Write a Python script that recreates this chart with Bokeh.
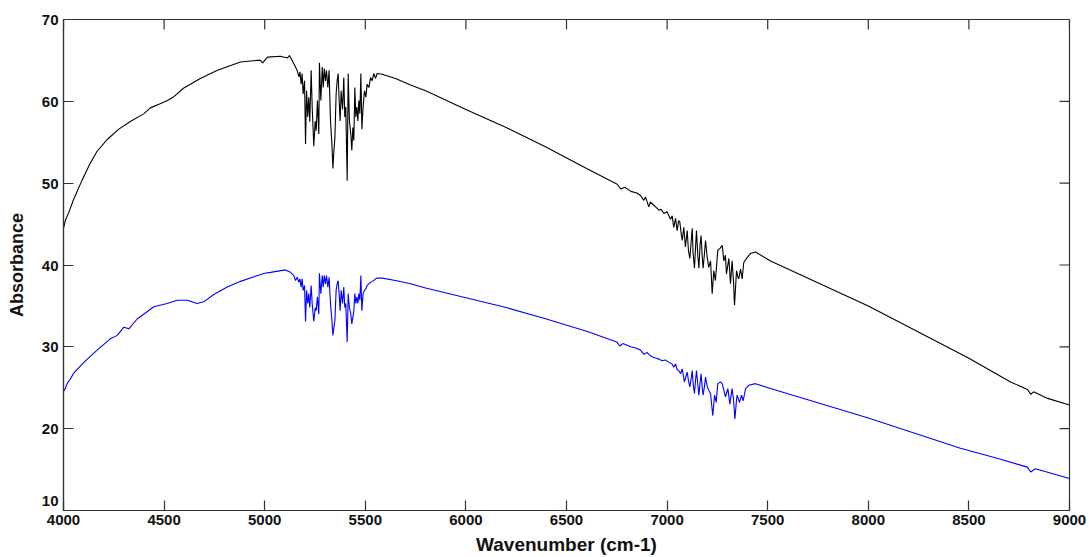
import math
from bokeh.plotting import figure
from bokeh.models import Range1d, FixedTicker
from bokeh.embed import file_html
from bokeh.resources import INLINE

# Tick positions
x_ticks = [4000, 4500, 5000, 5500, 6000, 6500, 7000, 7500, 8000, 8500, 9000]
y_ticks = [10, 20, 30, 40, 50, 60, 70]

# Upper spectrum (black)
black_wn = [
    4000, 4010, 4026, 4050, 4093, 4130, 4167, 4220, 4275, 4330, 4400, 4432, 4480, 4517,
    4550, 4596, 4680, 4765, 4880, 4960, 4979, 4990, 5000, 5014, 5078, 5113, 5123, 5145,
    5161, 5170, 5175, 5181, 5186, 5191, 5198, 5203, 5208, 5214, 5219, 5224, 5231, 5236,
    5244, 5251, 5256, 5262, 5269, 5272, 5279, 5286, 5291, 5296, 5302, 5307, 5314, 5320,
    5327, 5334, 5339, 5344, 5349, 5355, 5360, 5365, 5370, 5375, 5380, 5387, 5393, 5398,
    5403, 5410, 5415, 5421, 5428, 5433, 5438, 5443, 5448, 5453, 5458, 5463, 5468, 5473,
    5478, 5483, 5489, 5496, 5503, 5509, 5518, 5526, 5534, 5542, 5551, 5559, 5584, 5650,
    5725, 5800, 6000, 6200, 6400, 6600, 6750, 6770, 6790, 6820, 6850,
    6868, 6884, 6893, 6909, 6917, 6934, 6947, 6959, 6970, 6984, 7000, 7017, 7025, 7033,
    7042, 7050, 7057, 7063, 7070, 7075, 7083, 7091, 7100, 7106, 7113, 7120, 7125, 7129,
    7136, 7141, 7146, 7153, 7158, 7164, 7169, 7174, 7179, 7186, 7191, 7199, 7207, 7216,
    7224, 7232, 7240, 7252, 7262, 7274, 7282, 7290, 7295, 7307, 7315, 7323, 7330, 7335,
    7342, 7345, 7351, 7356, 7365, 7373, 7381, 7398, 7414, 7439, 7514,
    8000, 8500, 8607, 8707, 8791, 8807, 8822, 8891, 9000,
]
black_abs = [
    44.5, 45.5, 46.4, 48.0, 50.4, 52.3, 53.9, 55.4, 56.6, 57.5, 58.5, 59.2, 59.7, 60.1,
    60.6, 61.6, 62.8, 63.8, 64.8, 65.0, 65.0, 64.7, 65.0, 65.4, 65.5, 65.3, 65.6, 64.6,
    63.8, 63.0, 63.6, 62.1, 63.4, 60.9, 62.5, 54.8, 61.3, 58.1, 60.5, 57.5, 63.8, 59.3,
    54.5, 57.6, 56.4, 60.1, 56.0, 64.7, 60.1, 64.2, 61.7, 64.0, 62.5, 63.8, 61.7, 63.8,
    57.6, 54.8, 51.8, 54.0, 55.6, 60.9, 62.5, 63.4, 60.1, 57.6, 61.3, 59.0, 62.9, 58.1,
    59.3, 50.3, 63.4, 57.6, 56.0, 54.0, 56.8, 55.2, 61.7, 58.1, 59.3, 57.6, 60.1, 58.5,
    63.4, 56.6, 59.3, 61.3, 60.5, 62.1, 61.7, 62.9, 62.5, 63.4, 62.8, 63.4, 63.3, 62.8,
    62.0, 61.3, 59.0, 56.8, 54.4, 51.8, 49.9, 49.3, 49.5, 49.0, 48.8,
    48.5, 47.9, 48.3, 47.1, 47.7, 47.3, 47.0, 46.7, 46.8, 46.3, 46.5, 45.6, 46.0, 44.6,
    45.7, 44.2, 45.4, 45.3, 43.8, 43.0, 44.6, 42.2, 44.2, 41.8, 40.8, 43.0, 44.5, 41.5,
    39.6, 42.0, 44.2, 41.0, 39.6, 42.5, 43.6, 41.2, 39.6, 41.5, 43.0, 41.0, 39.7, 40.5,
    36.5, 39.3, 38.1, 41.8, 42.0, 42.4, 40.5, 41.2, 38.9, 40.8, 37.7, 40.5, 38.0, 35.1,
    38.0, 39.3, 38.6, 38.3, 39.5, 38.3, 40.3, 40.9, 41.4, 41.6, 40.5,
    35.0, 28.6, 27.1, 25.7, 24.8, 24.2, 24.5, 23.7, 22.9,
]

# Lower spectrum (blue)
blue_wn = [
    4000, 4005, 4020, 4035, 4051, 4101, 4167, 4234, 4267, 4300, 4325, 4366, 4449, 4515,
    4565, 4615, 4664, 4697, 4747, 4814, 4880, 4950, 5000, 5029, 5103, 5128, 5145, 5153,
    5161, 5170, 5175, 5181, 5186, 5191, 5198, 5203, 5208, 5214, 5219, 5224, 5231, 5236,
    5244, 5251, 5256, 5262, 5269, 5272, 5279, 5286, 5291, 5296, 5302, 5307, 5314, 5320,
    5327, 5334, 5339, 5344, 5349, 5355, 5360, 5365, 5370, 5375, 5380, 5387, 5393, 5398,
    5403, 5410, 5415, 5421, 5428, 5433, 5438, 5443, 5448, 5453, 5458, 5463, 5468, 5473,
    5478, 5483, 5489, 5496, 5503, 5509, 5518, 5526, 5534, 5542, 5551, 5559, 5584, 5650,
    5725, 5800, 6000, 6200, 6400, 6600, 6750, 6765, 6780, 6820, 6850,
    6868, 6884, 6901, 6917, 6934, 6947, 6959, 6975, 6992, 7009, 7025, 7033, 7042, 7050,
    7058, 7067, 7075, 7086, 7100, 7106, 7113, 7120, 7125, 7129, 7136, 7141, 7146, 7153,
    7158, 7164, 7169, 7174, 7179, 7186, 7191, 7199, 7207, 7216, 7227, 7236, 7244, 7252,
    7265, 7274, 7282, 7290, 7302, 7312, 7323, 7330, 7337, 7345, 7348, 7360, 7370, 7378,
    7390, 7406, 7439, 7514,
    8000, 8458, 8622, 8791, 8807, 8830, 9000,
]
blue_abs = [
    24.6, 24.7, 25.6, 26.1, 26.8, 28.1, 29.6, 31.0, 31.4, 32.4, 32.2, 33.4, 34.9, 35.3,
    35.7, 35.7, 35.3, 35.5, 36.4, 37.3, 38.0, 38.6, 39.0, 39.1, 39.4, 39.1, 38.7, 38.1,
    38.5, 37.9, 38.3, 37.3, 38.3, 36.9, 37.5, 33.1, 36.9, 35.3, 36.5, 34.8, 37.5, 35.3,
    33.1, 34.8, 34.4, 36.1, 34.0, 39.0, 36.5, 38.7, 37.3, 38.7, 37.7, 38.7, 37.3, 38.5,
    35.3, 33.2, 31.4, 32.4, 33.2, 36.9, 37.7, 38.1, 36.5, 34.4, 36.9, 35.3, 37.3, 34.8,
    35.3, 30.6, 36.5, 34.8, 34.0, 32.8, 33.6, 34.4, 36.5, 35.3, 36.1, 35.3, 36.5, 35.7,
    38.7, 34.4, 36.5, 36.9, 37.1, 37.5, 37.7, 37.9, 38.0, 38.1, 38.3, 38.4, 38.4, 38.1,
    37.7, 37.2, 36.0, 34.8, 33.4, 31.9, 30.6, 30.1, 30.4, 30.0, 29.8,
    29.6, 29.1, 29.3, 28.9, 28.7, 28.6, 28.5, 28.3, 28.4, 28.1, 27.9, 27.5, 27.9, 27.2,
    27.1, 26.7, 27.3, 25.7, 26.9, 25.9, 25.1, 26.2, 27.1, 25.6, 24.3, 25.8, 27.1, 25.3,
    24.1, 25.6, 26.7, 25.2, 24.1, 25.2, 26.3, 25.2, 24.7, 24.3, 21.6, 24.1, 23.2, 25.5,
    25.7, 25.5, 24.7, 23.9, 24.9, 23.0, 24.9, 23.6, 21.2, 23.5, 24.1, 23.2, 24.1, 23.4,
    24.9, 25.3, 25.5, 24.9,
    21.3, 17.6, 16.5, 15.3, 14.7, 15.1, 13.9,
]

FONT = "Liberation Sans"
AXIS_COLOR = "#333333"
TEXT_COLOR = "#111111"
TICK_LEN = 10

p = figure(
    width=1089, height=557,
    x_range=Range1d(x_ticks[0], x_ticks[-1]), y_range=Range1d(y_ticks[0], y_ticks[-1]),
    output_backend="svg", toolbar_location=None,
    min_border_left=63, min_border_right=20, min_border_top=19, min_border_bottom=47,
)
p.grid.visible = False
p.outline_line_color = AXIS_COLOR
p.outline_line_width = 1.2

p.line(black_wn, black_abs, line_color="black", line_width=1.1)
p.line(blue_wn, blue_abs, line_color="#0000ff", line_width=1.1)

# Inward ticks along the top and right edges of the box
p.ray(x=x_ticks, y=[y_ticks[-1]] * len(x_ticks), length=TICK_LEN, length_units="screen",
      angle=-math.pi / 2, line_color=AXIS_COLOR, line_width=1.2)
p.ray(x=[x_ticks[-1]] * len(y_ticks), y=y_ticks, length=TICK_LEN, length_units="screen",
      angle=math.pi, line_color=AXIS_COLOR, line_width=1.2)

for ax in (p.xaxis[0], p.yaxis[0]):
    ax.axis_line_color = AXIS_COLOR
    ax.axis_line_width = 1.2
    ax.major_tick_line_color = AXIS_COLOR
    ax.major_tick_line_width = 1.2
    ax.major_tick_in = TICK_LEN
    ax.major_tick_out = 0
    ax.minor_tick_in = 0
    ax.minor_tick_out = 0
    ax.major_label_text_font = FONT
    ax.major_label_text_font_style = "bold"
    ax.major_label_text_font_size = "15px"
    ax.major_label_text_color = TEXT_COLOR
    ax.axis_label_text_font = FONT
    ax.axis_label_text_font_style = "bold"
    ax.axis_label_text_color = TEXT_COLOR

xa = p.xaxis[0]
xa.ticker = FixedTicker(ticks=x_ticks)
xa.major_label_standoff = 4
xa.axis_label = "Wavenumber (cm-1)"
xa.axis_label_text_font_size = "19px"
xa.axis_label_standoff = 6

ya = p.yaxis[0]
ya.ticker = FixedTicker(ticks=y_ticks)
ya.major_label_standoff = 5
# lift the lowest label above its tick so it clears the x labels
ya.major_label_overrides = {y_ticks[0]: f"{y_ticks[0]}\n "}
ya.axis_label = "Absorbance"
ya.axis_label_text_font_size = "18px"
ya.axis_label_standoff = 12

open("out.html", "w").write(file_html(p, INLINE))
